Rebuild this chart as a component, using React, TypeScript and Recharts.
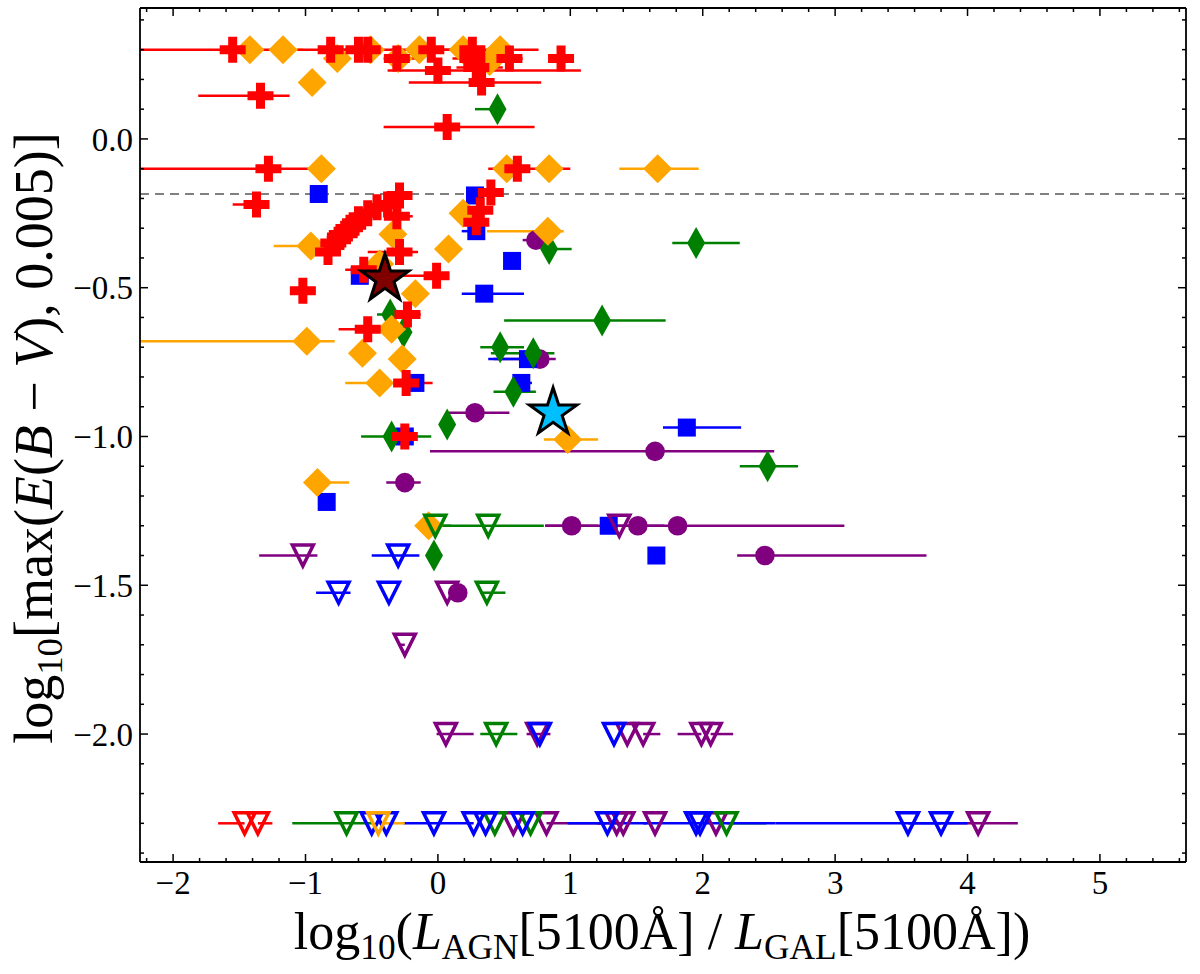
import React from 'react'
import { ScatterChart, Scatter, XAxis, YAxis, ErrorBar, ReferenceLine } from 'recharts'

// each point: [x, y, x error below, x error above]
type Pt = [number, number, number, number]

const redPlus: Pt[] = [
  [-1.55, 0.3, 0.7, 0.3], [-0.81, 0.3, 0.25, 0.25], [-0.6, 0.3, 0.15, 0.15], [-0.53, 0.3, 0.15, 0.2],
  [-0.05, 0.3, 0.3, 0.3], [0.26, 0.3, 0.3, 0.5], [-0.31, 0.27, 0.1, 0.15], [0.26, 0.27, 0.15, 0.2],
  [0.54, 0.27, 0.1, 0.1], [0.93, 0.27, 0.08, 0.08], [0.0, 0.23, 0.38, 1.08], [0.29, 0.24, 0.15, 0.2],
  [0.33, 0.19, 0.55, 0.45], [-1.34, 0.145, 0.47, 0.22], [0.07, 0.04, 0.48, 0.66], [-1.28, -0.1, 0.97, 0.3],
  [0.6, -0.1, 0.22, 0.4], [-1.37, -0.22, 0.18, 0.08], [-0.29, -0.19, 0.05, 0.05], [-0.38, -0.22, 0.05, 0.08],
  [-0.46, -0.23, 0.05, 0.05], [-0.31, -0.26, 0.05, 0.12], [-0.53, -0.25, 0.05, 0.05], [-0.6, -0.27, 0.05, 0.08],
  [-0.64, -0.29, 0.05, 0.05], [-0.69, -0.31, 0.05, 0.05], [-0.74, -0.33, 0.1, 0.05], [-0.79, -0.35, 0.05, 0.05],
  [-0.83, -0.38, 0.05, 0.05], [-0.29, -0.38, 0.24, 0.14], [-0.56, -0.44, 0.14, 0.1], [-0.01, -0.46, 0.28, 0.06],
  [0.4, -0.18, 0.05, 0.05], [0.32, -0.24, 0.05, 0.05], [0.29, -0.28, 0.05, 0.05], [-1.02, -0.51, 0.05, 0.05],
  [-0.23, -0.59, 0.05, 0.1], [-0.53, -0.64, 0.22, 0.1], [-0.24, -0.82, 0.1, 0.2], [-0.25, -1.0, 0.05, 0.05],
]

const orangeDiamond: Pt[] = [
  [-1.42, 0.3, 0, 0], [-1.17, 0.3, 0.05, 0.15], [-0.51, 0.3, 0, 0], [-0.14, 0.3, 0, 0], [0.19, 0.3, 0, 0],
  [0.47, 0.3, 0, 0], [-0.76, 0.27, 0, 0], [-0.3, 0.27, 0, 0], [0.39, 0.26, 0, 0], [-0.95, 0.19, 0, 0],
  [-0.88, -0.1, 0, 0], [0.52, -0.1, 0.1, 0], [0.84, -0.1, 0, 0], [1.66, -0.1, 0.29, 0.31],
  [-0.96, -0.36, 0.28, 0], [-0.34, -0.32, 0, 0], [0.08, -0.37, 0, 0], [0.19, -0.25, 0.1, 0],
  [0.83, -0.31, 0.46, 0.12], [-0.44, -0.42, 0, 0], [-0.17, -0.52, 0, 0], [-0.35, -0.64, 0, 0],
  [-0.99, -0.68, 1.26, 0.21], [-0.57, -0.72, 0, 0], [-0.27, -0.74, 0, 0], [-0.44, -0.82, 0.26, 0],
  [0.98, -1.01, 0.18, 0.23], [-0.91, -1.155, 0, 0.24], [-0.07, -1.3, 0.05, 0],
]

const greenDiamond: Pt[] = [
  [0.45, 0.1, 0.17, 0], [1.95, -0.35, 0.18, 0.33], [0.84, -0.37, 0.05, 0.17], [1.24, -0.61, 0.74, 0.48],
  [-0.36, -0.59, 0.1, 0.1], [-0.26, -0.65, 0, 0], [0.47, -0.7, 0.15, 0.18], [0.72, -0.72, 0.32, 0.16],
  [0.57, -0.85, 0.15, 0.17], [0.07, -0.96, 0, 0], [-0.35, -1.0, 0.23, 0.3], [2.49, -1.1, 0.21, 0.23],
  [-0.03, -1.4, 0, 0],
]

const blueSquare: Pt[] = [
  [-0.9, -0.185, 0, 0], [0.28, -0.19, 0, 0.05], [0.29, -0.31, 0.11, 0], [0.56, -0.41, 0.03, 0],
  [0.35, -0.52, 0.17, 0.3], [-0.59, -0.46, 0.05, 0], [-0.17, -0.82, 0, 0], [0.68, -0.74, 0.3, 0.1],
  [0.63, -0.82, 0.06, 0.08], [1.88, -0.97, 0.18, 0.41], [-0.84, -1.22, 0, 0], [1.29, -1.3, 0, 0],
  [1.65, -1.4, 0, 0], [-0.25, -1.0, 0, 0],
]

const purpleCircle: Pt[] = [
  [0.74, -0.34, 0.1, 0], [0.77, -0.74, 0.35, 0.12], [0.28, -0.92, 0.2, 0.26], [1.64, -1.05, 1.7, 0.9],
  [-0.25, -1.155, 0.14, 0.12], [1.01, -1.3, 0.2, 0.2], [1.51, -1.3, 0.2, 0.2], [1.81, -1.3, 1.0, 1.26],
  [2.47, -1.4, 0.21, 1.22], [0.15, -1.525, 0, 0],
]

// upper limits (open downward triangles)
const purpleLimit: Pt[] = [
  [-1.02, -1.4, 0.33, 0.11], [1.37, -1.3, 0, 0], [0.07, -1.525, 0, 0], [-0.25, -1.7, 0.05, 0],
  [0.06, -2.0, 0.07, 0.21], [0.75, -2.0, 0.08, 0.1], [1.43, -2.0, 0, 0], [1.55, -2.0, 0, 0.13],
  [1.99, -2.0, 0.18, 0], [2.06, -2.0, 0, 0.17], [0.57, -2.3, 0, 0], [0.82, -2.3, 0, 0.45],
  [1.35, -2.3, 0, 0], [1.4, -2.3, 0.2, 0], [1.64, -2.3, 0, 0], [2.1, -2.3, 0, 0], [4.08, -2.3, 0.3, 0.3],
]

const blueLimit: Pt[] = [
  [-0.3, -1.4, 0.2, 0.16], [-0.75, -1.525, 0.17, 0.09], [-0.37, -1.525, 0, 0], [0.77, -2.0, 0, 0],
  [1.33, -2.0, 0, 0], [-0.5, -2.3, 0, 0], [-0.39, -2.3, 0, 0], [-0.03, -2.3, 0.23, 0.3],
  [0.27, -2.3, 0, 0], [0.36, -2.3, 0, 0], [0.64, -2.3, 0, 0], [1.28, -2.3, 0.3, 0.3],
  [1.95, -2.3, 0.4, 0.6], [1.98, -2.3, 0, 0], [3.55, -2.3, 1.0, 0.25], [3.8, -2.3, 0.25, 0.2],
]

const greenLimit: Pt[] = [
  [-0.02, -1.3, 0, 0.12], [0.38, -1.3, 0.44, 0.42], [0.37, -1.525, 0.05, 0.14], [0.44, -2.0, 0.12, 0.16],
  [-0.69, -2.3, 0.41, 0.2], [0.43, -2.3, 0, 0], [0.7, -2.3, 0, 0], [2.18, -2.3, 0, 0.3],
]

const redLimit: Pt[] = [[-1.46, -2.3, 0.2, 0], [-1.36, -2.3, 0, 0.11]]
const orangeLimit: Pt[] = [[-0.45, -2.3, 0, 0.2]]

const darkStar: Pt[] = [[-0.4, -0.47, 0, 0]]
const skyStar: Pt[] = [[0.87, -0.92, 0, 0]]

const dashedLevel = -0.185

const xMajor = [-2, -1, 0, 1, 2, 3, 4, 5]
const xTickLabels = ['\u22122', '\u22121', '0', '1', '2', '3', '4', '5']
const yMajor = [-2.0, -1.5, -1.0, -0.5, 0.0]
const yTickLabels = ['\u22122.0', '\u22121.5', '\u22121.0', '\u22120.5', '0.0']

const xMinorTicks = Array.from({ length: 40 }, (_, i) => Math.round((-2.2 + i * 0.2) * 10) / 10)
const yMinorTicks = Array.from({ length: 29 }, (_, i) => Math.round((-2.4 + i * 0.1) * 10) / 10)

const X_DOMAIN: [number, number] = [-2.25, 5.65]
const Y_DOMAIN: [number, number] = [-2.43, 0.44]

const SERIF = '"Liberation Serif", "DejaVu Serif", serif'

const rows = (pts: Pt[]) => pts.map(([x, y, lo, hi]) => ({ x, y, ex: [lo, hi] }))
const majorIndex = (v: number, majors: number[]) => majors.findIndex(m => Math.abs(m - v) < 1e-6)

// inward marks on every frame edge (long for majors); labels come from separate axes
function makeTickMarks(side: 'bottom' | 'top' | 'left' | 'right') {
  return (props: any) => {
    const { x, y, payload } = props
    const idx = majorIndex(payload.value, side === 'top' || side === 'bottom' ? xMajor : yMajor)
    const len = idx >= 0 ? 8 : 4
    let line
    if (side === 'bottom') line = <line x1={x} x2={x} y1={y} y2={y - len} />
    else if (side === 'top') line = <line x1={x} x2={x} y1={y} y2={y + len} />
    else if (side === 'left') line = <line x1={x} x2={x + len} y1={y} y2={y} />
    else line = <line x1={x} x2={x - len} y1={y} y2={y} />
    return <g stroke="#000" strokeWidth={1.5}>{line}</g>
  }
}

function makeShape(kind: string, color: string) {
  return (props: any) => {
    const { cx, cy } = props
    if (cx == null || cy == null) return <g />
    if (kind === 'plus') {
      const h = 13, a = 4.5
      const d = `M${cx - a},${cy - h}H${cx + a}V${cy - a}H${cx + h}V${cy + a}H${cx + a}V${cy + h}H${cx - a}V${cy + a}H${cx - h}V${cy - a}H${cx - a}Z`
      return <path d={d} fill={color} />
    }
    if (kind === 'diamond') {
      const h = 14.5
      return <path d={`M${cx},${cy - h}L${cx + h},${cy}L${cx},${cy + h}L${cx - h},${cy}Z`} fill={color} />
    }
    if (kind === 'thin') {
      const w = 9, h = 16
      return <path d={`M${cx},${cy - h}L${cx + w},${cy}L${cx},${cy + h}L${cx - w},${cy}Z`} fill={color} />
    }
    if (kind === 'square') {
      const s = 9
      return <rect x={cx - s} y={cy - s} width={2 * s} height={2 * s} fill={color} />
    }
    if (kind === 'circle') return <circle cx={cx} cy={cy} r={9.8} fill={color} />
    if (kind === 'limit') {
      const w = 10.5, h = 10.5
      return (
        <path d={`M${cx - w},${cy - h}L${cx + w},${cy - h}L${cx},${cy + h}Z`} fill="none" stroke={color} strokeWidth={3.5} strokeLinejoin="miter" />
      )
    }
    // star
    const R = 25, r = R * 0.382
    const pts = Array.from({ length: 10 }, (_, i) => {
      const ang = -Math.PI / 2 + (i * Math.PI) / 5
      const rad = i % 2 === 0 ? R : r
      return `${cx + rad * Math.cos(ang)},${cy + rad * Math.sin(ang)}`
    })
    return <polygon points={pts.join(' ')} fill={color} stroke="#000" strokeWidth={3} strokeLinejoin="miter" />
  }
}

const series: { name: string; pts: Pt[]; kind: string; color: string }[] = [
  { name: 'purpleCircle', pts: purpleCircle, kind: 'circle', color: '#800080' },
  { name: 'blueSquare', pts: blueSquare, kind: 'square', color: '#0000FF' },
  { name: 'greenDiamond', pts: greenDiamond, kind: 'thin', color: '#008000' },
  { name: 'orangeDiamond', pts: orangeDiamond, kind: 'diamond', color: '#FFA500' },
  { name: 'redPlus', pts: redPlus, kind: 'plus', color: '#FF0000' },
  { name: 'purpleLimit', pts: purpleLimit, kind: 'limit', color: '#800080' },
  { name: 'greenLimit', pts: greenLimit, kind: 'limit', color: '#008000' },
  { name: 'blueLimit', pts: blueLimit, kind: 'limit', color: '#0000FF' },
  { name: 'redLimit', pts: redLimit, kind: 'limit', color: '#FF0000' },
  { name: 'orangeLimit', pts: orangeLimit, kind: 'limit', color: '#FFA500' },
  { name: 'darkStar', pts: darkStar, kind: 'star', color: '#800000' },
  { name: 'skyStar', pts: skyStar, kind: 'star', color: '#00BFFF' },
]

const axisLine = { stroke: '#000', strokeWidth: 1.8 }
const labelTick = { fontSize: 33, fontFamily: SERIF, fill: '#000' }

export default function App() {
  const sub = { fontSize: '0.68em', verticalAlign: '-0.28em' } as React.CSSProperties
  return (
    <div style={{ position: 'absolute', left: 0, top: 0, width: 1200, height: 974, background: '#fff' }}>
      <ScatterChart width={1200} height={974} margin={{ top: 4, right: 10, bottom: 81, left: 79 }}>
        {/* frame edges with inward marks */}
        <XAxis
          type="number"
          dataKey="x"
          domain={X_DOMAIN}
          allowDataOverflow
          ticks={xMinorTicks}
          interval={0}
          height={1}
          tickSize={0}
          tickMargin={0}
          tickLine={false}
          tick={makeTickMarks('bottom')}
          axisLine={axisLine}
        />
        <XAxis
          xAxisId="labels"
          type="number"
          dataKey="x"
          domain={X_DOMAIN}
          allowDataOverflow
          ticks={xMajor}
          interval={0}
          height={30}
          tickSize={0}
          tickMargin={8}
          tickLine={false}
          tick={labelTick}
          tickFormatter={(v: number) => xTickLabels[majorIndex(v, xMajor)] ?? ''}
          axisLine={false}
        />
        <XAxis
          xAxisId="top"
          orientation="top"
          type="number"
          dataKey="x"
          domain={X_DOMAIN}
          allowDataOverflow
          ticks={xMinorTicks}
          interval={0}
          height={4}
          tickSize={0}
          tickMargin={0}
          tickLine={false}
          tick={makeTickMarks('top')}
          axisLine={axisLine}
        />
        <YAxis
          type="number"
          dataKey="y"
          domain={Y_DOMAIN}
          allowDataOverflow
          ticks={yMinorTicks}
          interval={0}
          width={1}
          tickSize={0}
          tickMargin={0}
          tickLine={false}
          tick={makeTickMarks('left')}
          axisLine={axisLine}
        />
        <YAxis
          yAxisId="labels"
          type="number"
          dataKey="y"
          domain={Y_DOMAIN}
          allowDataOverflow
          ticks={yMajor}
          interval={0}
          width={60}
          tickSize={0}
          tickMargin={6}
          tickLine={false}
          tick={labelTick}
          tickFormatter={(v: number) => yTickLabels[majorIndex(v, yMajor)] ?? ''}
          axisLine={false}
        />
        <YAxis
          yAxisId="right"
          orientation="right"
          type="number"
          dataKey="y"
          domain={Y_DOMAIN}
          allowDataOverflow
          ticks={yMinorTicks}
          interval={0}
          width={4}
          tickSize={0}
          tickMargin={0}
          tickLine={false}
          tick={makeTickMarks('right')}
          axisLine={axisLine}
        />
        <ReferenceLine y={dashedLevel} stroke="#808080" strokeWidth={2} strokeDasharray="9 6" />
        {series.map(s => (
          <Scatter
            key={s.name}
            name={s.name}
            data={rows(s.pts)}
            shape={makeShape(s.kind, s.color)}
            isAnimationActive={false}
          >
            {s.kind !== 'star' && (
              <ErrorBar dataKey="ex" direction="x" width={0} stroke={s.color} strokeWidth={2.5} isAnimationActive={false} />
            )}
          </Scatter>
        ))}
      </ScatterChart>
      <div
        style={{
          position: 'absolute', left: 662, top: 936, transform: 'translate(-50%, -50%)',
          whiteSpace: 'nowrap', fontFamily: SERIF, fontSize: 52, lineHeight: 1, color: '#000',
        }}
      >
        log<span style={sub}>10</span>(<i>L</i><span style={sub}>AGN</span>[5100Å] / <i>L</i>
        <span style={sub}>GAL</span>[5100Å])
      </div>
      <div
        style={{
          position: 'absolute', left: 38, top: 438, transform: 'translate(-50%, -50%) rotate(-90deg)',
          whiteSpace: 'nowrap', fontFamily: SERIF, fontSize: 54, lineHeight: 1, color: '#000',
        }}
      >
        log<span style={sub}>10</span>[max(<i>E</i>(<i>B</i> − <i>V</i>), 0.005)]
      </div>
    </div>
  )
}
